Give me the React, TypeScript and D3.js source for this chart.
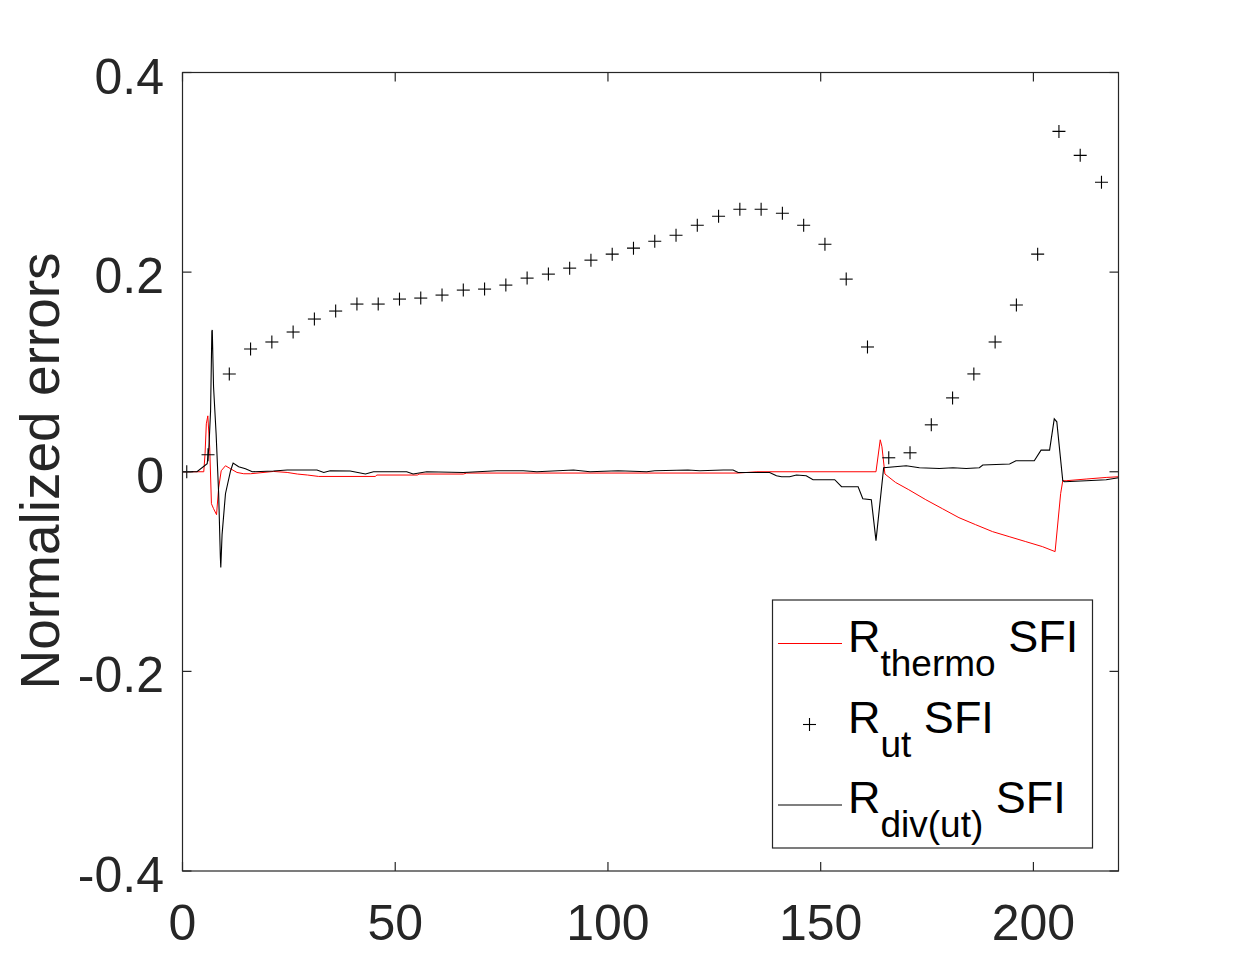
import React from 'react';
import * as d3 from 'd3';

// R_thermo SFI (red line), breakpoints
const thermoX = [0, 3.4, 5.0, 5.3, 5.6, 5.95, 6.4, 6.8, 7.3, 8.0, 8.5, 9.1, 10.1, 11.3, 12.8, 14.4, 16, 21.4, 24.6, 27, 29.4, 32, 45.3, 45.7, 55.2, 55.6, 66, 66.8, 130.6, 135, 163, 164, 164.4, 165.1, 167.6, 170.7, 174.7, 178.6, 182.5, 186.4, 190.4, 194.3, 198.2, 202.1, 205.1, 206.4, 206.9, 207.7, 212.4, 217.1, 220];
const thermoY = [0, 0, 0, 0.018, 0.048, 0.056, 0.024, -0.032, -0.037, -0.043, -0.016, 0.001, 0.006, 0.003, -0.0007, -0.002, -0.002, 0.0003, -0.0007, -0.0023, -0.0033, -0.0047, -0.0047, -0.0033, -0.0033, -0.0023, -0.0023, -0.0013, -0.0013, 0, 0, 0.032, 0.025, -0.0023, -0.0107, -0.018, -0.028, -0.037, -0.046, -0.053, -0.06, -0.065, -0.07, -0.075, -0.08, -0.022, -0.009, -0.009, -0.0073, -0.0057, -0.005];

// R_ut SFI (plus markers)
const utX = [1, 6, 11, 16, 21, 26, 31, 36, 41, 46, 51, 56, 61, 66, 71, 76, 81, 86, 91, 96, 101, 106, 111, 116, 121, 126, 131, 136, 141, 146, 151, 156, 161, 166, 171, 176, 181, 186, 191, 196, 201, 206, 211, 216];
const utY = [0, 0.017, 0.098, 0.123, 0.13, 0.14, 0.153, 0.161, 0.168, 0.168, 0.173, 0.174, 0.177, 0.182, 0.183, 0.187, 0.194, 0.198, 0.204, 0.212, 0.218, 0.224, 0.231, 0.237, 0.247, 0.256, 0.263, 0.263, 0.259, 0.247, 0.228, 0.193, 0.125, 0.014, 0.019, 0.047, 0.074, 0.098, 0.13, 0.167, 0.218, 0.341, 0.317, 0.29];

// R_div(ut) SFI (black line)
const divX = [0, 3.4, 5.8, 6.2, 6.6, 6.9, 7.0, 7.3, 7.9, 8.5, 8.9, 9.0, 9.3, 10.1, 11.3, 11.9, 13.2, 14.8, 16.4, 21.4, 24.6, 31.6, 33.2, 34.7, 39.4, 43, 44.9, 52.7, 54.2, 57.4, 66, 73.9, 80.1, 83.3, 91.9, 95.8, 102.4, 109.1, 111, 118.8, 121.6, 127.1, 129.4, 130.6, 138, 139.6, 140.8, 142.7, 144.3, 146.6, 148.2, 153.3, 154.9, 158.8, 159.9, 161.9, 163, 164.8, 170.1, 173.2, 177.9, 181.1, 184.2, 187.3, 188.1, 194.4, 195.9, 200.2, 201.8, 203.8, 204.9, 205.5, 206.9, 207.3, 212.4, 217.1, 220];
const divY = [0, 0, 0.008, 0.024, 0.061, 0.141, 0.142, 0.085, 0.038, -0.022, -0.086, -0.096, -0.063, -0.022, 0.001, 0.0087, 0.005, 0.003, 0, 0.0007, 0.0017, 0.0017, -0.0007, 0.001, 0.0007, -0.0023, 0, 0, -0.0023, 0, -0.0007, 0.001, 0.001, 0, 0.0017, 0, 0.001, 0, 0.001, 0.0017, 0.001, 0.0017, 0.0017, -0.0007, -0.0007, -0.004, -0.005, -0.005, -0.0033, -0.004, -0.008, -0.008, -0.015, -0.015, -0.027, -0.028, -0.069, 0.004, 0.006, 0.004, 0.0033, 0.004, 0.0033, 0.004, 0.0067, 0.0077, 0.011, 0.011, 0.0217, 0.0217, 0.053, 0.05, -0.009, -0.01, -0.009, -0.008, -0.006];

const xTicks = [0, 50, 100, 150, 200];
const yTicks = [-0.4, -0.2, 0, 0.2, 0.4];

const width = 1236;
const height = 980;
const marginLeft = 182.5;
const marginRight = 117.5;
const marginTop = 72.5;
const marginBottom = 109;

const axisColor = '#262626';
const font = '"Liberation Sans", Arial, Helvetica, sans-serif';

export default function App() {
  const x = d3.scaleLinear().domain([0, 220]).range([marginLeft, width - marginRight]);
  const y = d3.scaleLinear().domain([-0.4, 0.4]).range([height - marginBottom, marginTop]);

  const line = d3.line<[number, number]>()
    .x(d => x(d[0]))
    .y(d => y(d[1]));

  const thermoPath = line(thermoX.map((v, i) => [v, thermoY[i]])) || '';
  const divPath = line(divX.map((v, i) => [v, divY[i]])) || '';

  const x0 = x(0), x1 = x(220), y0 = y(-0.4), y1 = y(0.4);
  const tick = 9;
  const plus = 6.5;

  // legend layout
  const lgX = 772.5, lgY = 600, lgW = 320, lgH = 248;
  const rows = [643.5, 724.5, 805];

  return (
    <svg width={width} height={height} style={{ position: 'absolute', left: 0, top: 0, background: '#fff' }}>
      <defs>
        <clipPath id="plot-clip">
          <rect x={x0} y={y1} width={x1 - x0} height={y0 - y1} />
        </clipPath>
      </defs>
      <rect x={x0} y={y1} width={x1 - x0} height={y0 - y1} fill="#fff" />

      {/* series */}
      <g clipPath="url(#plot-clip)">
        <path d={thermoPath} fill="none" stroke="#ff0000" strokeWidth={1} />
        <g stroke="#000" strokeWidth={1.1}>
          {utX.map((v, i) => (
            <g key={i} transform={`translate(${x(v)},${y(utY[i])})`}>
              <line x1={-plus} x2={plus} y1={0} y2={0} />
              <line x1={0} x2={0} y1={-plus} y2={plus} />
            </g>
          ))}
        </g>
        <path d={divPath} fill="none" stroke="#000" strokeWidth={1.1} />
      </g>

      {/* axes box and ticks */}
      <g stroke={axisColor} strokeWidth={1.2} fill="none">
        <rect x={x0} y={y1} width={x1 - x0} height={y0 - y1} />
        {xTicks.map(t => (
          <g key={'x' + t}>
            <line x1={x(t)} x2={x(t)} y1={y0} y2={y0 - tick} />
            <line x1={x(t)} x2={x(t)} y1={y1} y2={y1 + tick} />
          </g>
        ))}
        {yTicks.map(t => (
          <g key={'y' + t}>
            <line x1={x0} x2={x0 + tick} y1={y(t)} y2={y(t)} />
            <line x1={x1} x2={x1 - tick} y1={y(t)} y2={y(t)} />
          </g>
        ))}
      </g>

      <g fill={axisColor} fontFamily={font} fontSize={50}>
        {xTicks.map(t => (
          <text key={'xl' + t} x={x(t)} y={940} textAnchor="middle">{t}</text>
        ))}
        {yTicks.map(t => (
          <text key={'yl' + t} x={164} y={y(t) + 21} textAnchor="end">{t}</text>
        ))}
        <text transform={`translate(59,471) rotate(-90)`} textAnchor="middle" fontSize={55}>Normalized errors</text>
      </g>

      {/* legend */}
      <g>
        <rect x={lgX} y={lgY} width={lgW} height={lgH} fill="#fff" stroke={axisColor} strokeWidth={1.2} />
        <line x1={778} x2={842} y1={rows[0]} y2={rows[0]} stroke="#ff0000" strokeWidth={1} />
        <g stroke="#000" strokeWidth={1.1}>
          <line x1={809.5 - plus} x2={809.5 + plus} y1={rows[1]} y2={rows[1]} />
          <line x1={809.5} x2={809.5} y1={rows[1] - plus} y2={rows[1] + plus} />
        </g>
        <line x1={778} x2={842} y1={rows[2]} y2={rows[2]} stroke="#000" strokeWidth={1.1} />
        <g fill="#000" fontFamily={font} fontSize={45}>
          <text x={848} y={rows[0] + 8}>R<tspan fontSize={37} dy={24}>thermo</tspan><tspan dy={-24}> SFI</tspan></text>
          <text x={848} y={rows[1] + 8}>R<tspan fontSize={37} dy={24}>ut</tspan><tspan dy={-24}> SFI</tspan></text>
          <text x={848} y={rows[2] + 8}>R<tspan fontSize={37} dy={24}>div(ut)</tspan><tspan dy={-24}> SFI</tspan></text>
        </g>
      </g>
    </svg>
  );
}
